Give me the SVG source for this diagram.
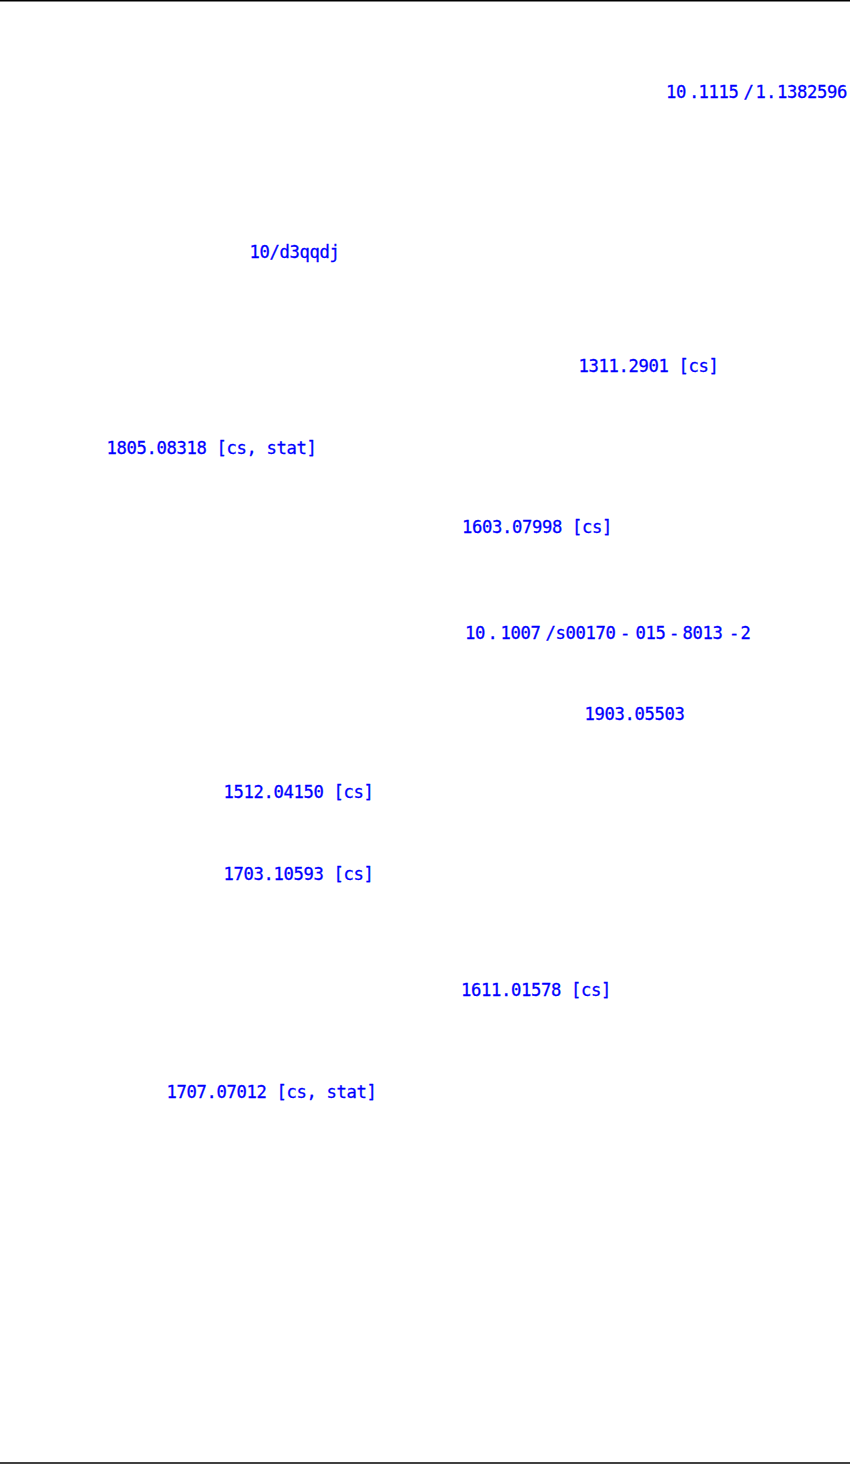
<svg xmlns="http://www.w3.org/2000/svg" width="850" height="1464" viewBox="0 0 850 1464">
<style>
.l{fill:#0000ff;stroke:#0000ff;stroke-width:0.3;font-family:"DejaVu Sans Mono","Liberation Mono",monospace;font-size:17.2px;letter-spacing:-0.35px}
.r{stroke:#000;stroke-width:1.4}
</style>
<rect width="850" height="1464" fill="#fff"/>
<line class="r" x1="0" y1="0.7" x2="850" y2="0.7"/>
<line class="r" x1="0" y1="1463" x2="850" y2="1463"/>
<g id="t1"><text class="l" y="98"><tspan x="666">10</tspan><tspan x="689">.</tspan><tspan x="698.5">1115</tspan><tspan x="743.5">/</tspan><tspan x="755.5">1</tspan><tspan x="766">.</tspan><tspan x="777">1382596</tspan></text></g>
<g id="t2"><text class="l" x="249.5" y="258">10/d3qqdj</text></g>
<g id="t3"><text class="l" x="578.5" y="372">1311.2901 [cs]</text></g>
<g id="t4"><text class="l" x="106.5" y="454">1805.08318 [cs, stat]</text></g>
<g id="t5"><text class="l" x="462" y="533">1603.07998 [cs]</text></g>
<g id="t6"><text class="l" y="639"><tspan x="465">10</tspan><tspan x="487.5">.</tspan><tspan x="500.5">1007</tspan><tspan x="545.5">/</tspan><tspan x="555.5">s00170</tspan><tspan x="620">-</tspan><tspan x="635.5">015</tspan><tspan x="669">-</tspan><tspan x="682.5">8013</tspan><tspan x="729">-</tspan><tspan x="740.5">2</tspan></text></g>
<g id="t7"><text class="l" x="584.5" y="720">1903.05503</text></g>
<g id="t8"><text class="l" x="223.5" y="798">1512.04150 [cs]</text></g>
<g id="t9"><text class="l" x="223.5" y="880">1703.10593 [cs]</text></g>
<g id="t10"><text class="l" x="461" y="995.5">1611.01578 [cs]</text></g>
<g id="t11"><text class="l" x="166.5" y="1098">1707.07012 [cs, stat]</text></g>
</svg>
